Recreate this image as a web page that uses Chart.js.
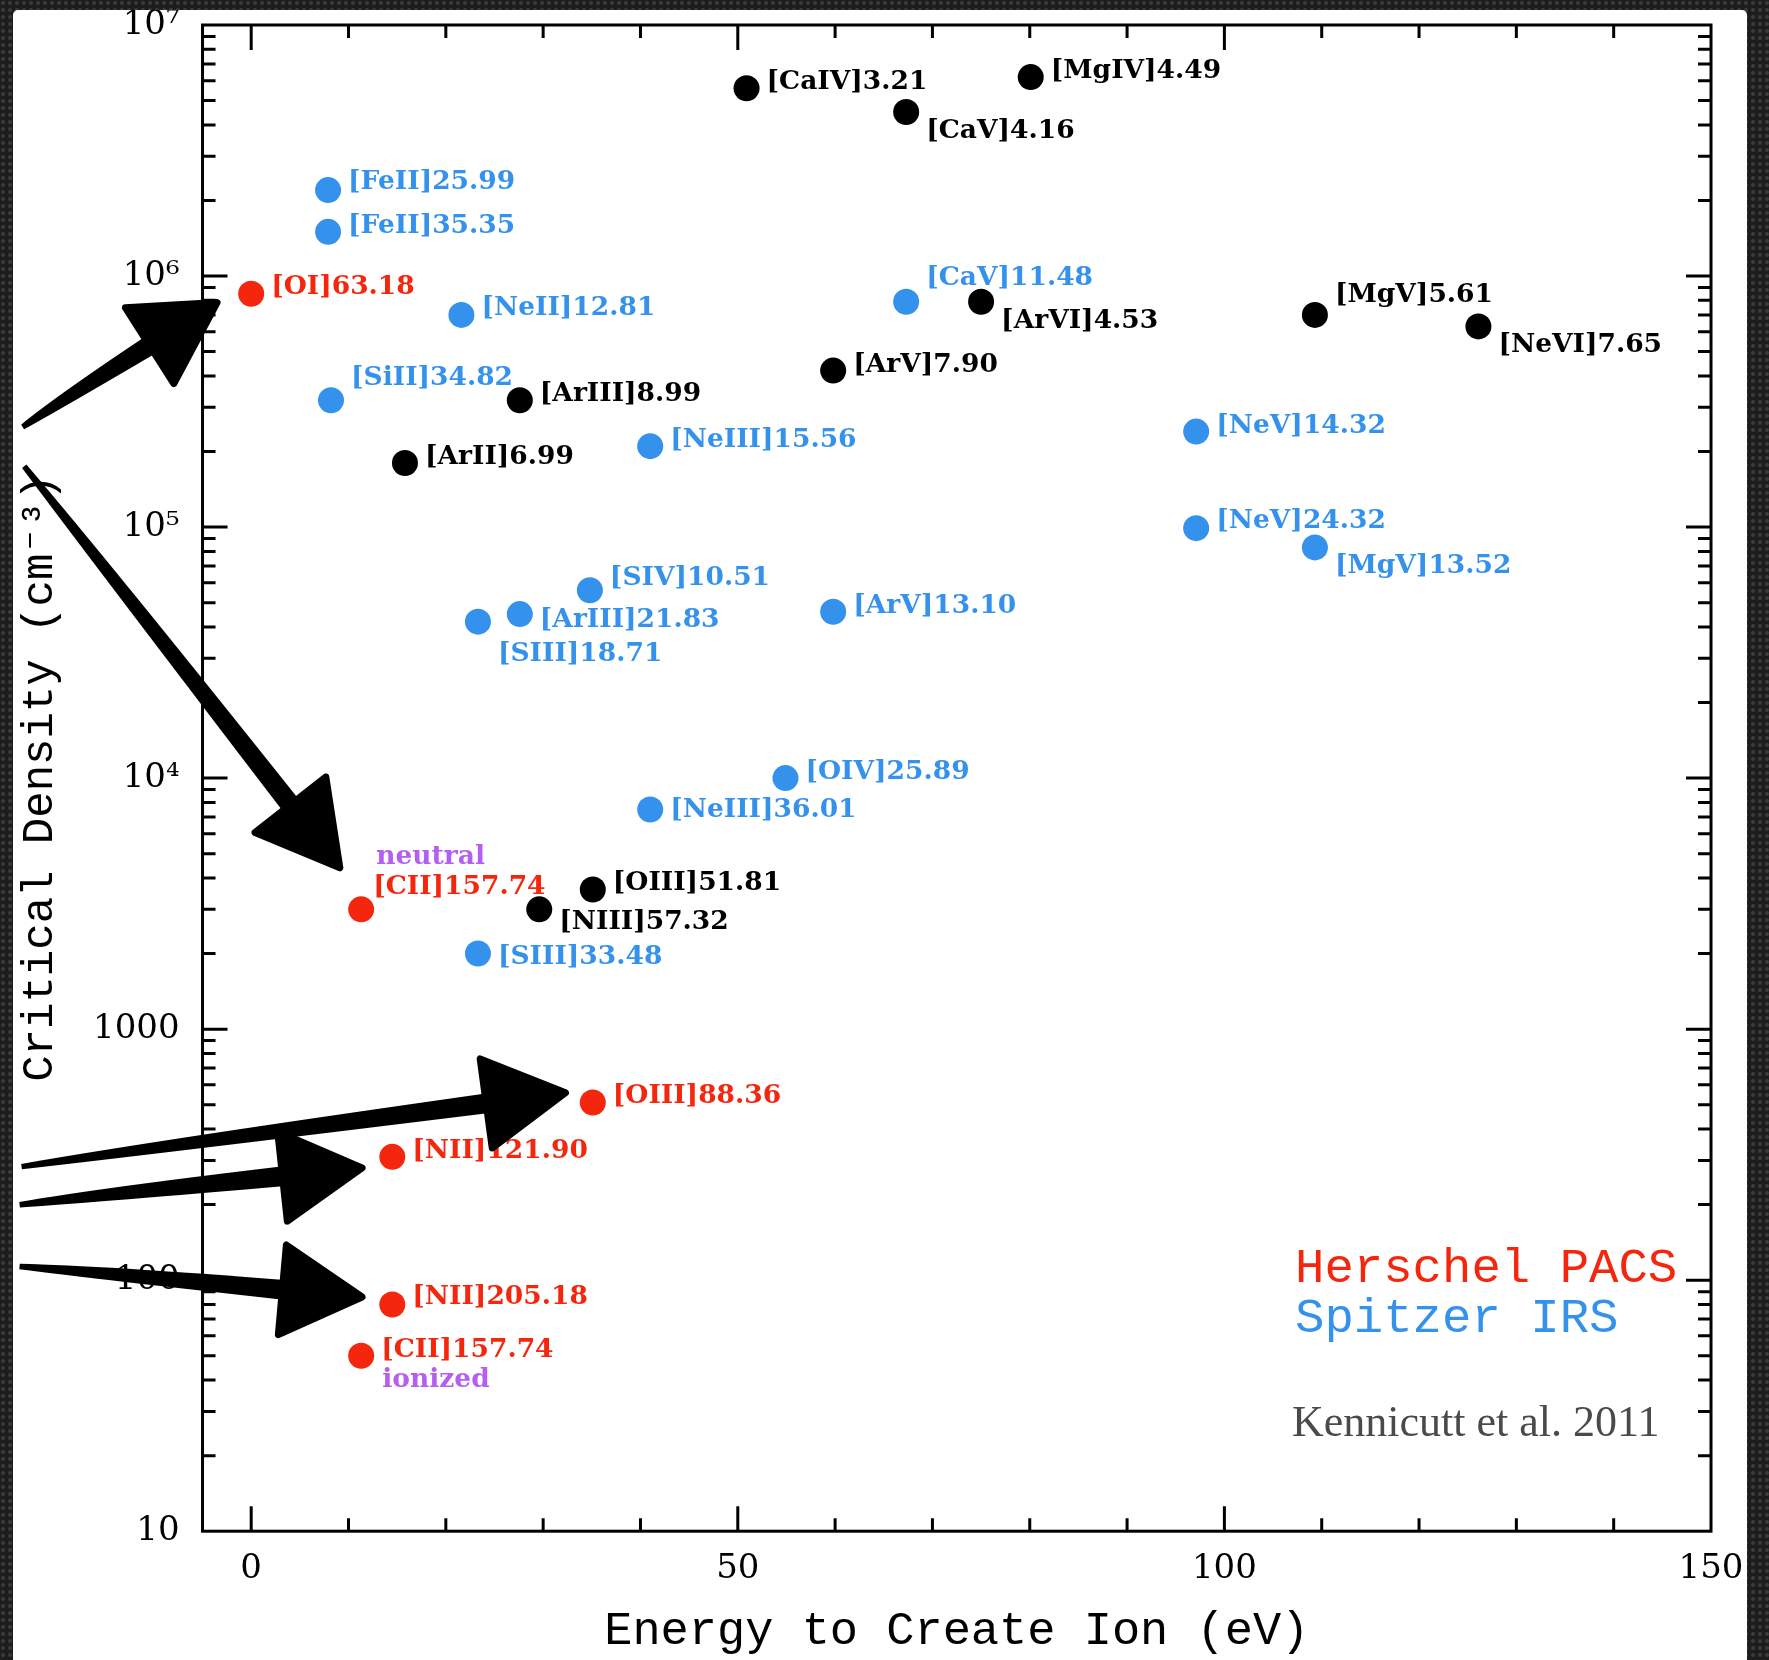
<!DOCTYPE html>
<html>
<head>
<meta charset="utf-8">
<title>Critical density vs ionization energy</title>
<script src="https://cdn.jsdelivr.net/npm/chart.js@4.4.1/dist/chart.umd.min.js"></script>
<style>
    html, body
    {
        margin: 0;
        padding: 0;
    }
    body
    {
        width: 1769px;
        height: 1660px;
        overflow: hidden;
        position: relative;
        background-color: #1d1d1d;
        background-image: radial-gradient(circle at 3px 3px, #3a3a3a 0 1.5px, transparent 2.4px);
        background-size: 7px 7px;
    }
    #panel
    {
        position: absolute;
        left: 13px;
        top: 10px;
        width: 1734px;
        height: 1700px;
        background: #ffffff;
        border-radius: 5px;
        overflow: hidden;
    }
    #chart
    {
        position: absolute;
        left: -13px;
        top: -10px;
    }
</style>
</head>
<body>
<div id="panel">
    <canvas id="chart" width="1769" height="1660"></canvas>
</div>
<script>
// Herschel PACS lines (red)
const pacsLines = ['[OI]63.18', '[CII]157.74', '[OIII]88.36', '[NII]121.90', '[NII]205.18', '[CII]157.74'];
const pacsEnergy = [0, 11.3, 35.1, 14.5, 14.5, 11.3];
const pacsDensity = [8.5e5, 3000, 510, 310, 80, 50];
const pacsNotes = ['', 'neutral', '', '', '', 'ionized'];

// Spitzer IRS lines (blue)
const irsLines = ['[FeII]25.99', '[FeII]35.35', '[NeII]12.81', '[SiII]34.82', '[NeIII]15.56', '[CaV]11.48',
                  '[NeV]14.32', '[NeV]24.32', '[MgV]13.52', '[SIV]10.51', '[ArIII]21.83', '[SIII]18.71',
                  '[ArV]13.10', '[OIV]25.89', '[NeIII]36.01', '[SIII]33.48'];
const irsEnergy = [7.9, 7.9, 21.6, 8.2, 41.0, 67.3, 97.1, 97.1, 109.3, 34.8, 27.6, 23.3, 59.8, 54.9, 41.0, 23.3];
const irsDensity = [2.2e6, 1.5e6, 7.0e5, 3.2e5, 2.1e5, 7.9e5, 2.4e5, 9.9e4, 8.3e4, 5.6e4, 4.5e4, 4.2e4, 4.6e4, 1.0e4, 7.5e3, 2.0e3];

// other lines (black)
const otherLines = ['[CaIV]3.21', '[CaV]4.16', '[MgIV]4.49', '[ArVI]4.53', '[MgV]5.61', '[NeVI]7.65',
                    '[ArV]7.90', '[ArIII]8.99', '[ArII]6.99', '[OIII]51.81', '[NIII]57.32'];
const otherEnergy = [50.9, 67.3, 80.1, 75.0, 109.3, 126.1, 59.8, 27.6, 15.8, 35.1, 29.6];
const otherDensity = [5.6e6, 4.5e6, 6.2e6, 7.9e5, 7.0e5, 6.3e5, 4.2e5, 3.2e5, 1.8e5, 3.6e3, 3.0e3];

const seriesNames = ['Herschel PACS', 'Spitzer IRS', 'other'];
const creditText = 'Kennicutt et al. 2011';

const yTickPowers = [1, 2, 3, 4, 5, 6, 7];
const yTickLabels = ['10', '100', '1000', '10\u2074', '10\u2075', '10\u2076', '10\u2077'];

// arrows: tail and tip in data units
const arrowFromX = [-23.5, -23.3, -23.6, -23.8, -23.8];
const arrowFromY = [2.51e5, 1.75e5, 284, 200, 113.5];
const arrowToX = [-3.25, 9.3, 32.6, 11.7, 11.7];
const arrowToY = [7.96e5, 4300, 560, 281, 85.5];

// label offsets (px): left edge of text, vertical centre of text, relative to point
const pacsOffsets = [[20, -10], [12, -25], [20, -10], [20, -9], [20, -10], [20, -9]];
const irsOffsets = [[20, -11], [20, -9], [20, -10], [20, -25], [20, -9], [20, -27], [20, -9], [20, -10],
                    [20, 16], [20, -15], [20, 3], [20, 29], [20, -9], [20, -9], [20, -2], [20, 0]];
const otherOffsets = [[20, -9], [20, 16], [20, -9], [20, 16], [20, -23], [20, 16], [20, -9], [20, -9],
                      [20, -9], [20, -9], [20, 10]];

const RED = '#f4260e';
const BLUE = '#3592ec';
const BLACK = '#000000';
const PURPLE = '#b45ef2';

const groups =
[
    { names: pacsLines, offsets: pacsOffsets, color: RED },
    { names: irsLines, offsets: irsOffsets, color: BLUE },
    { names: otherLines, offsets: otherOffsets, color: BLACK }
];

function toPoints(xs, ys)
{
    return xs.map((x, i) => ({ x: x, y: ys[i] }));
}

function yLabel(value)
{
    const l = Math.log10(value);
    const e = Math.round(l);
    if (Math.abs(l - e) > 1e-9) return '';
    const k = yTickPowers.indexOf(e);
    return k < 0 ? '' : yTickLabels[k];
}

// the plot area is fixed by layout padding, not by half tick labels
function noEdgePadding(scale)
{
    scale.paddingTop = 0;
    scale.paddingBottom = 0;
    scale.paddingLeft = 0;
    scale.paddingRight = 0;
}

const frame =
{
    id: 'frame',
    beforeDatasetsDraw(chart)
    {
        const { ctx, chartArea: a, scales: { x, y } } = chart;
        ctx.save();
        ctx.strokeStyle = '#000';
        ctx.lineWidth = 3;
        ctx.strokeRect(a.left, a.top, a.right - a.left, a.bottom - a.top);

        ctx.beginPath();
        x.ticks.forEach(t =>
        {
            if (t.value % 10 !== 0 || t.value <= x.min || t.value >= x.max) return;
            const len = t.value % 50 === 0 ? 25 : 13;
            const px = x.getPixelForValue(t.value);
            ctx.moveTo(px, a.bottom);
            ctx.lineTo(px, a.bottom - len);
            ctx.moveTo(px, a.top);
            ctx.lineTo(px, a.top + len);
        });

        // decades from the log scale, with 2..9 in between
        const decades = y.ticks.map(t => t.value).filter(v => yLabel(v) !== '');
        decades.forEach(d =>
        {
            for (let m = 1; m <= 9; m++)
            {
                const v = d * m;
                if (v <= y.min || v >= y.max) continue;
                const len = m === 1 ? 25 : 13;
                const py = y.getPixelForValue(v);
                ctx.moveTo(a.left, py);
                ctx.lineTo(a.left + len, py);
                ctx.moveTo(a.right, py);
                ctx.lineTo(a.right - len, py);
            }
        });
        ctx.stroke();
        ctx.restore();
    }
};

const lineLabels =
{
    id: 'lineLabels',
    afterDatasetsDraw(chart)
    {
        const ctx = chart.ctx;
        ctx.save();
        ctx.font = 'bold 26.5px "DejaVu Serif"';
        ctx.textAlign = 'left';
        ctx.textBaseline = 'alphabetic';
        groups.forEach((g, di) =>
        {
            const meta = chart.getDatasetMeta(di);
            ctx.fillStyle = g.color;
            g.names.forEach((name, i) =>
            {
                const pt = meta.data[i];
                ctx.fillText(name, pt.x + g.offsets[i][0], pt.y + g.offsets[i][1] + 10);
            });
        });

        // neutral / ionized notes on the [CII] points
        const meta = chart.getDatasetMeta(0);
        ctx.fillStyle = PURPLE;
        pacsNotes.forEach((note, i) =>
        {
            if (!note) return;
            const pt = meta.data[i];
            const above = pacsDensity[i] > 1000;
            ctx.fillText(note, pt.x + (above ? 15 : 21), pt.y + (above ? -55 : 21) + 10);
        });
        ctx.restore();
    }
};

function drawArrow(ctx, x0, y0, x1, y1)
{
    const ang = Math.atan2(y1 - y0, x1 - x0);
    const len = Math.hypot(x1 - x0, y1 - y0) - 3;
    const headLen = 80;
    const headHalf = 45;
    const neck = len - headLen + 8;

    ctx.save();
    ctx.translate(x0, y0);
    ctx.rotate(ang);
    ctx.fillStyle = '#000';
    ctx.strokeStyle = '#000';

    // brush-like shaft, thin at the tail
    ctx.beginPath();
    ctx.moveTo(0, -2.5);
    ctx.quadraticCurveTo(neck * 0.3, -8, neck, -10);
    ctx.lineTo(neck, 10);
    ctx.quadraticCurveTo(neck * 0.3, 6, 0, 3);
    ctx.closePath();
    ctx.fill();

    ctx.beginPath();
    ctx.moveTo(len, 0);
    ctx.lineTo(len - headLen, -headHalf);
    ctx.lineTo(len - headLen, headHalf);
    ctx.closePath();
    ctx.lineJoin = 'round';
    ctx.lineWidth = 7;
    ctx.fill();
    ctx.stroke();
    ctx.restore();
}

const overlay =
{
    id: 'overlay',
    afterDraw(chart)
    {
        const { ctx, chartArea: a, scales: { x, y } } = chart;
        ctx.save();

        ctx.textAlign = 'left';
        ctx.textBaseline = 'alphabetic';
        ctx.font = '49px "Liberation Mono"';
        ctx.fillStyle = RED;
        ctx.fillText(seriesNames[0], a.right - 416, a.bottom - 249);
        ctx.fillStyle = BLUE;
        ctx.fillText(seriesNames[1], a.right - 416, a.bottom - 199);

        ctx.font = '44px "Liberation Serif"';
        ctx.fillStyle = '#4a4a4a';
        ctx.fillText(creditText, a.right - 419, a.bottom - 95);

        for (let i = 0; i < arrowFromX.length; i++)
        {
            drawArrow(ctx,
                x.getPixelForValue(arrowFromX[i]), y.getPixelForValue(arrowFromY[i]),
                x.getPixelForValue(arrowToX[i]), y.getPixelForValue(arrowToY[i]));
        }
        ctx.restore();
    }
};

const data =
{
    datasets:
    [
        {
            label: seriesNames[0],
            data: toPoints(pacsEnergy, pacsDensity),
            backgroundColor: RED,
            borderWidth: 0,
            pointRadius: 13
        },
        {
            label: seriesNames[1],
            data: toPoints(irsEnergy, irsDensity),
            backgroundColor: BLUE,
            borderWidth: 0,
            pointRadius: 13
        },
        {
            label: seriesNames[2],
            data: toPoints(otherEnergy, otherDensity),
            backgroundColor: BLACK,
            borderWidth: 0,
            pointRadius: 13
        }
    ]
};

const config =
{
    type: 'scatter',
    data: data,
    options:
    {
        responsive: false,
        animation: false,
        events: [],
        layout:
        {
            padding: { left: 18, right: 58, top: 25, bottom: 5 }
        },
        plugins:
        {
            legend: { display: false },
            tooltip: { enabled: false }
        },
        scales:
        {
            x:
            {
                type: 'linear',
                min: -5,
                max: 150,
                afterFit: noEdgePadding,
                grid: { display: false, drawTicks: false },
                border: { display: false },
                ticks:
                {
                    stepSize: 10,
                    includeBounds: false,
                    autoSkip: false,
                    maxRotation: 0,
                    padding: 18,
                    color: '#000',
                    font: { family: '"DejaVu Serif"', size: 34, lineHeight: 1.2 },
                    callback: (v) => (v % 50 === 0 ? String(v) : '')
                },
                title:
                {
                    display: true,
                    text: 'Energy to Create Ion (eV)',
                    color: '#000',
                    font: { family: '"Liberation Mono", "DejaVu Sans Mono", monospace', size: 47, lineHeight: 1.0 },
                    padding: { top: 0, bottom: 0 }
                }
            },
            y:
            {
                type: 'logarithmic',
                min: 10,
                max: 1e7,
                afterFit: noEdgePadding,
                grid: { display: false, drawTicks: false },
                border: { display: false },
                ticks:
                {
                    autoSkip: false,
                    padding: 23,
                    color: '#000',
                    font: { family: '"DejaVu Serif"', size: 34, lineHeight: 1.2 },
                    callback: (v) => yLabel(v)
                },
                title:
                {
                    display: true,
                    text: 'Critical Density (cm\u207B\u00B3)',
                    color: '#000',
                    font: { family: '"Liberation Mono", "DejaVu Sans Mono", monospace', size: 44, lineHeight: 1.0 },
                    padding: { top: 0, bottom: 8 }
                }
            }
        }
    },
    plugins: [frame, lineLabels, overlay]
};

const ctx = document.getElementById('chart').getContext('2d');
const chart = new Chart(ctx, config);
</script>
</body>
</html>
